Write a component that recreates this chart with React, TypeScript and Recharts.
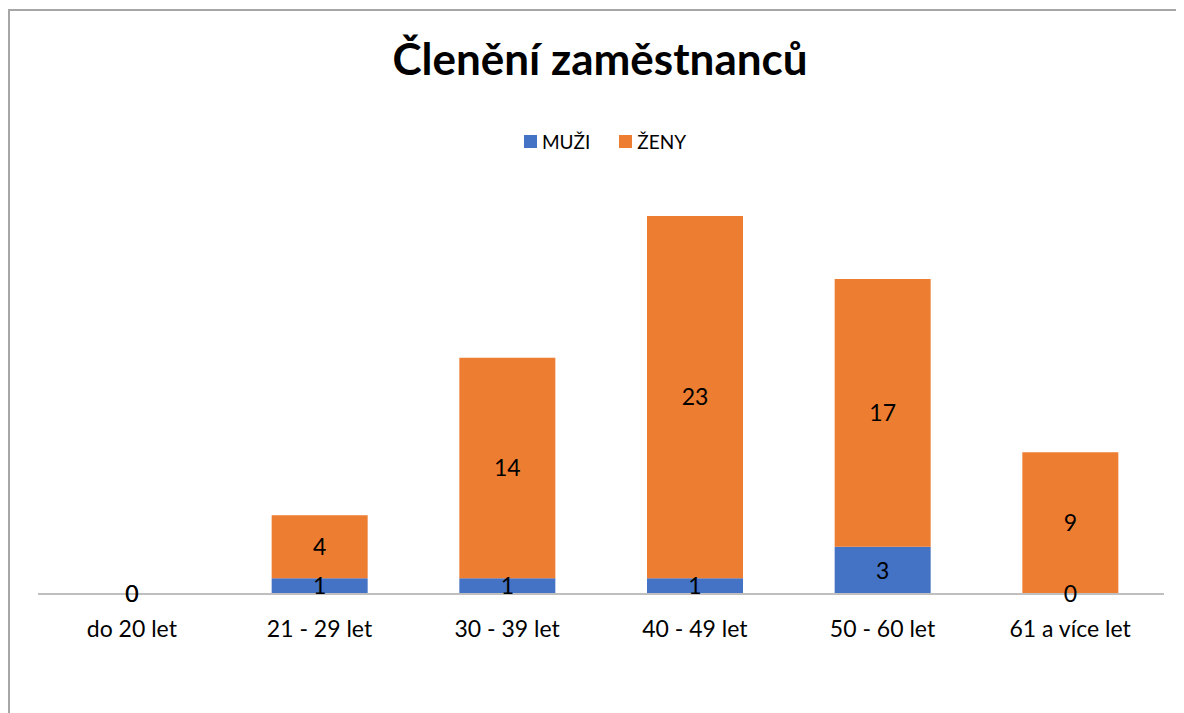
import React from "react";
import { BarChart, Bar, XAxis, YAxis, LabelList, Legend } from "recharts";

const categories = ["do 20 let", "21 - 29 let", "30 - 39 let", "40 - 49 let", "50 - 60 let", "61 a více let"];
const muzi = [0, 1, 1, 1, 3, 0];
const zeny = [0, 4, 14, 23, 17, 9];
const title = "Členění zaměstnanců";
const seriesNames = ["MUŽI", "ŽENY"];
const colors = ["#4472C4", "#ED7D31"];

const data = categories.map((c, i) => ({ name: c, muzi: muzi[i], zeny: zeny[i] }));

const FONT = "Lato, 'Noto Sans', sans-serif";

const LegendContent = () => (
  <div style={{ display: "flex", justifyContent: "center", fontFamily: FONT, fontSize: 19, color: "#000", paddingLeft: 18 }}>
    {seriesNames.map((n, i) => (
      <div key={n} style={{ display: "flex", alignItems: "center", marginRight: i === 0 ? 29 : 0 }}>
        <div style={{ width: 13, height: 13, background: colors[i], marginRight: 5 }} />
        <span>{n}</span>
      </div>
    ))}
  </div>
);

const labelStyle = { fontFamily: FONT, fontSize: 23, fill: "#000" };

export default function App() {
  return (
    <div style={{ position: "relative", width: 1176, height: 705 }}>
      <div
        style={{
          position: "absolute",
          top: 0,
          left: 0,
          width: "100%",
          textAlign: "center",
          fontFamily: FONT,
          fontWeight: 700,
          fontSize: 44,
          lineHeight: "50px",
          marginTop: 25,
          color: "#000",
          paddingLeft: 4,
        }}
      >
        {title}
      </div>
      <BarChart width={1176} height={705} data={data} margin={{ top: 185, right: 20, bottom: 79, left: 30 }}>
        <XAxis
          dataKey="name"
          axisLine={{ stroke: "#bfbfbf", strokeWidth: 2 }}
          tickLine={false}
          tickSize={0}
          tickMargin={27}
          tick={{ fontFamily: FONT, fontSize: 23, fill: "#000" }}
          height={40}
        />
        <YAxis hide domain={[0, 24]} allowDataOverflow />
        <Legend
          verticalAlign="top"
          content={<LegendContent />}
          wrapperStyle={{ top: 122, left: 0, width: 1176 }}
        />
        <Bar dataKey="muzi" name={seriesNames[0]} stackId="a" fill={colors[0]} barSize={96} minPointSize={0.01} isAnimationActive={false}>
          <LabelList dataKey="muzi" position="center" style={labelStyle} />
        </Bar>
        <Bar dataKey="zeny" name={seriesNames[1]} stackId="a" fill={colors[1]} barSize={96} minPointSize={0.01} isAnimationActive={false}>
          <LabelList dataKey="zeny" position="center" style={labelStyle} />
        </Bar>
      </BarChart>
      <div
        style={{
          position: "absolute",
          top: 1,
          left: 0,
          width: "100%",
          height: "100%",
          borderTop: "2px solid #a6a6a6",
          borderLeft: "2px solid #a6a6a6",
          pointerEvents: "none",
        }}
      />
    </div>
  );
}
